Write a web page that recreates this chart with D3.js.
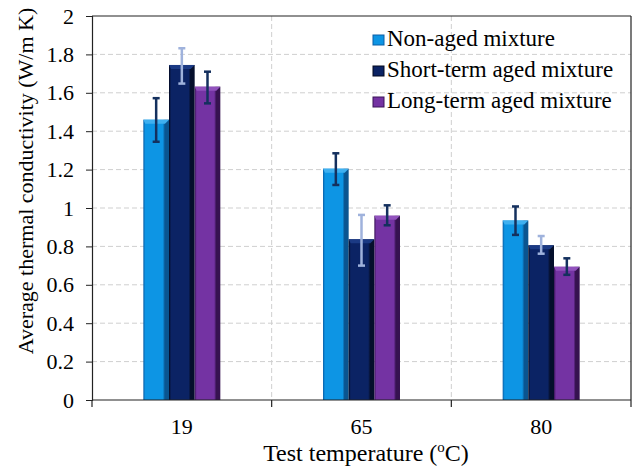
<!DOCTYPE html>
<html>
<head>
<meta charset="utf-8">
<script src="https://cdn.jsdelivr.net/npm/d3@7"></script>
<style>
  html, body { margin: 0; padding: 0; background: #fff; }
  svg { display: block; font-family: "Liberation Serif", "Times New Roman", serif; }
</style>
</head>
<body>
<svg id="chart" width="637" height="470"></svg>
<script>
// --- data ---
const categories = ['19', '65', '80'];
const seriesNames = ['Non-aged mixture', 'Short-term aged mixture', 'Long-term aged mixture'];
const nonAged   = [1.46, 1.205, 0.935];
const shortTerm = [1.745, 0.837, 0.806];
const longTerm  = [1.632, 0.96, 0.694];
const errLow  = [[1.345, 1.12, 0.86], [1.648, 0.70, 0.762], [1.545, 0.91, 0.652]];
const errHigh = [[1.572, 1.285, 1.008], [1.832, 0.964, 0.854], [1.71, 1.014, 0.738]];
const yTicks = [0, 0.2, 0.4, 0.6, 0.8, 1, 1.2, 1.4, 1.6, 1.8, 2];

const values = [nonAged, shortTerm, longTerm];

// --- layout ---
const plotL = 92, plotR = 631, plotT = 16, plotB = 400;

const svg = d3.select('#chart');

// colours: main, left edge, right edge, top bevel, error bar
const palette = [
  { main: '#0d95e4', edgeL: '#0a5ea6', edgeR: '#0a5590', topc: '#3fb0f0', err: '#14305e' },
  { main: '#0b2364', edgeL: '#03081e', edgeR: '#050f2c', topc: '#1b3a84', err: '#9fb2dc' },
  { main: '#7433a3', edgeL: '#3a1558', edgeR: '#361250', topc: '#9152bd', err: '#14305e' }
];

const defs = svg.append('defs');
palette.forEach((p, i) => {
  const g = defs.append('linearGradient').attr('id', 'grad' + i)
    .attr('x1', 0).attr('x2', 1).attr('y1', 0).attr('y2', 0);
  g.append('stop').attr('offset', '0%').attr('stop-color', p.edgeL);
  g.append('stop').attr('offset', '8%').attr('stop-color', p.main);
  g.append('stop').attr('offset', '76%').attr('stop-color', p.main);
  g.append('stop').attr('offset', '84%').attr('stop-color', p.edgeR);
  g.append('stop').attr('offset', '100%').attr('stop-color', p.edgeR);
});

// --- scales ---
const x0 = d3.scaleBand().domain(categories).range([plotL, plotR]).paddingInner(0).paddingOuter(0);
const x1 = d3.scaleBand().domain(d3.range(seriesNames.length)).range([0, x0.bandwidth()])
  .paddingInner(0).paddingOuter(2);
const y = d3.scaleLinear().domain([0, 2]).range([plotB, plotT]);

// --- grid ---
svg.append('g').selectAll('line').data(yTicks.slice(1, -1)).join('line')
  .attr('x1', plotL).attr('x2', plotR)
  .attr('y1', d => y(d)).attr('y2', d => y(d))
  .attr('stroke', '#cfcfcf').attr('stroke-width', 1).attr('stroke-dasharray', '5,3');

const bounds = categories.map(c => x0(c)).concat([plotR]);
svg.append('g').selectAll('line').data(bounds.slice(1, -1)).join('line')
  .attr('x1', d => d).attr('x2', d => d)
  .attr('y1', plotT).attr('y2', plotB)
  .attr('stroke', '#cfcfcf').attr('stroke-width', 1).attr('stroke-dasharray', '5,3');

// --- bars ---
const barG = svg.append('g');
values.forEach((vals, s) => {
  const p = palette[s];
  const g = barG.append('g');
  g.selectAll('rect.bar').data(vals).join('rect')
    .attr('class', 'bar')
    .attr('x', (d, i) => x0(categories[i]) + x1(s))
    .attr('y', d => y(d))
    .attr('width', x1.bandwidth())
    .attr('height', d => plotB - y(d))
    .attr('fill', `url(#grad${s})`);
  // top bevel
  g.selectAll('path.bevel').data(vals).join('path')
    .attr('class', 'bevel')
    .attr('d', (d, i) => {
      const xa = x0(categories[i]) + x1(s), w = x1.bandwidth(), ya = y(d);
      return `M${xa},${ya}L${xa + w},${ya}L${xa + w - 4},${ya + 4}L${xa + 2},${ya + 4}Z`;
    })
    .attr('fill', p.topc);
});

// --- error bars ---
const errG = svg.append('g');
values.forEach((vals, s) => {
  const p = palette[s];
  vals.forEach((d, i) => {
    const cx = x0(categories[i]) + x1(s) + x1.bandwidth() / 2;
    const lo = y(errLow[s][i]), hi = y(errHigh[s][i]);
    errG.append('line').attr('x1', cx).attr('x2', cx).attr('y1', lo).attr('y2', hi)
      .attr('stroke', p.err).attr('stroke-width', 2.5);
    [lo, hi].forEach(yy => errG.append('line')
      .attr('x1', cx - 3.5).attr('x2', cx + 3.5).attr('y1', yy).attr('y2', yy)
      .attr('stroke', p.err).attr('stroke-width', 2.5));
  });
});

// --- axes ---
const yAxis = svg.append('g').attr('transform', `translate(${plotL},0)`)
  .call(d3.axisLeft(y).tickValues(yTicks).tickFormat(d3.format('~g')).tickSize(6).tickPadding(12));
yAxis.select('.domain').attr('stroke', '#222').attr('stroke-width', 1.2);
yAxis.selectAll('.tick line').attr('stroke', '#222');
yAxis.selectAll('text').attr('font-size', 22).attr('fill', '#000')
  .attr('font-family', '"Liberation Serif", serif');

// x axis line + boundary ticks
svg.append('line').attr('x1', plotL).attr('x2', plotR).attr('y1', plotB).attr('y2', plotB)
  .attr('stroke', '#222').attr('stroke-width', 1.2);
svg.append('g').selectAll('line').data(bounds).join('line')
  .attr('x1', d => d).attr('x2', d => d).attr('y1', plotB).attr('y2', plotB + 7)
  .attr('stroke', '#222').attr('stroke-width', 1.2);
svg.append('g').selectAll('text').data(categories).join('text')
  .attr('x', d => x0(d) + x0.bandwidth() / 2).attr('y', 434)
  .attr('text-anchor', 'middle').attr('font-size', 22).attr('fill', '#000')
  .text(d => d);

// frame top / right
svg.append('line').attr('x1', plotL).attr('x2', plotR).attr('y1', plotT).attr('y2', plotT)
  .attr('stroke', '#222').attr('stroke-width', 1.2);
svg.append('line').attr('x1', plotR).attr('x2', plotR).attr('y1', plotT).attr('y2', plotB)
  .attr('stroke', '#222').attr('stroke-width', 1.2);

// titles
const xt = svg.append('text').attr('x', 366).attr('y', 461).attr('text-anchor', 'middle')
  .attr('font-size', 24).attr('fill', '#000');
xt.append('tspan').text('Test temperature (');
xt.append('tspan').attr('font-size', 15).attr('dy', -9).text('o');
xt.append('tspan').attr('dy', 9).text('C)');

svg.append('text').attr('transform', 'translate(33,181) rotate(-90)')
  .attr('text-anchor', 'middle').attr('font-size', 22).attr('fill', '#000')
  .text('Average  thermal  conductivity  (W/m K)');

// --- legend ---
const legend = svg.append('g');
seriesNames.forEach((name, i) => {
  const yy = 46 + i * 31;
  legend.append('rect').attr('x', 373).attr('y', yy - 11).attr('width', 11).attr('height', 10)
    .attr('fill', palette[i].main).attr('stroke', palette[i].edgeL).attr('stroke-width', 1);
  legend.append('text').attr('x', 387).attr('y', yy).attr('font-size', 23).attr('fill', '#000')
    .text(name);
});
</script>
</body>
</html>
